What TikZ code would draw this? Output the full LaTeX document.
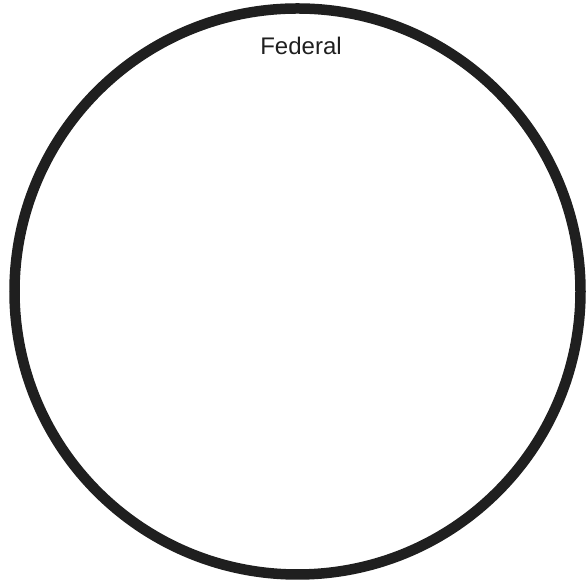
\documentclass[tikz,border=0pt]{standalone}
\usepackage{fontspec}
\setmainfont{Liberation Sans}
\begin{document}
\begin{tikzpicture}[x=1pt,y=1pt,
  ring/.style={draw=black!88,line width=10.5pt},
  lbl/.style={font=\fontsize{24}{28}\selectfont,text=black!88,inner sep=0pt,anchor=base}]
\useasboundingbox (0,0) rectangle (587,585);
\node[ring,circle,minimum size=566pt,inner sep=0pt,outer sep=0pt] (fed) at (297.5,293.5) {};
\node[lbl] (t) at (301,530) {Federal};
\end{tikzpicture}
\end{document}
